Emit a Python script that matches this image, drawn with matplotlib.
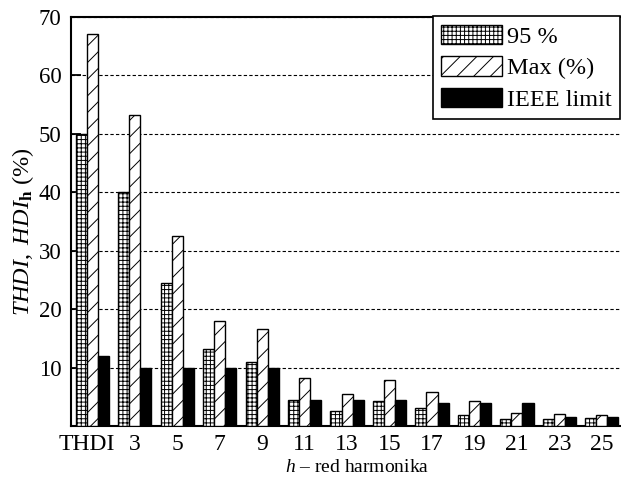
import numpy as np
import matplotlib
matplotlib.use("Agg")
import matplotlib.pyplot as plt
from matplotlib.transforms import ScaledTranslation

plt.rcParams['font.family'] = ['Liberation Serif', 'DejaVu Serif']
plt.rcParams['mathtext.fontset'] = 'custom'
plt.rcParams['mathtext.rm'] = 'Liberation Serif'
plt.rcParams['mathtext.it'] = 'Liberation Serif:italic'
plt.rcParams['mathtext.bf'] = 'Liberation Serif:bold'
plt.rcParams['hatch.linewidth'] = 0.7

# Harmonic orders and measured current distortion levels (%)
categories = ['THDI', '3', '5', '7', '9', '11', '13', '15', '17', '19', '21', '23', '25']
p95 = [50.0, 40.0, 24.4, 13.2, 10.9, 4.5, 2.5, 4.2, 3.0, 1.8, 1.2, 1.2, 1.3]
pmax = [67.1, 53.2, 32.5, 18.0, 16.6, 8.3, 5.4, 7.8, 5.9, 4.2, 2.2, 2.0, 1.8]
ieee = [12.0, 10.0, 10.0, 10.0, 10.0, 4.5, 4.5, 4.5, 4.0, 4.0, 4.0, 1.5, 1.5]

fig = plt.figure(figsize=(6.21, 4.83), dpi=100)
ax = fig.add_axes([71 / 621, 57 / 483, 550 / 621, 409 / 483])

x = np.arange(len(categories))
w = 0.2615

ax.bar(x - w, p95, w, color='white', edgecolor='black', linewidth=1.0,
       hatch='++++', label='95 %', zorder=3)
ax.bar(x, pmax, w, color='white', edgecolor='black', linewidth=1.0,
       hatch='//', label='Max (%)', zorder=3)
ax.bar(x + w, ieee, w, color='black', edgecolor='black', linewidth=1.0,
       label='IEEE limit', zorder=3)

ax.set_xlim(-0.503, 12.453)
ax.set_ylim(0, 70)
ax.set_yticks(np.arange(0, 71, 10))
ax.set_yticklabels(['', '10', '20', '30', '40', '50', '60', '70'])
ax.set_xticks(x)
ax.set_xticklabels(categories)

ax.yaxis.grid(True, linestyle=(0, (3, 2)), color='black', linewidth=0.8)
ax.set_axisbelow(True)

for side in ('left', 'bottom', 'top'):
    ax.spines[side].set_linewidth(1.5)
ax.spines['right'].set_visible(False)

ax.tick_params(axis='y', direction='in', length=7, width=1.3, labelsize=16.5, pad=7)
ax.tick_params(axis='x', length=0, labelsize=17, pad=6)

# nudge the wide "THDI" label a little to the left of its group
first = ax.get_xticklabels()[0]
first.set_transform(first.get_transform() + ScaledTranslation(-6 / 100, 0, fig.dpi_scale_trans))

ax.set_xlabel(r'$\mathit{h}$ – red harmonika', fontsize=14)
ax.xaxis.set_label_coords((357 - 71) / 550, -(467 - 426) / 409)
ax.xaxis.label.set_va('center')
ax.set_ylabel(r'$\mathit{THDI},\ \mathit{HDI}_{\mathbf{h}}$ (%)', fontsize=17.5)
ax.yaxis.set_label_coords((23 - 71) / 550, (483 - 232 - 57) / 409)
ax.yaxis.label.set_va('center')

leg = ax.legend(loc='upper right', bbox_to_anchor=(620 / 621, 1 - 16 / 483),
                bbox_transform=fig.transFigure, fontsize=17.5, frameon=True,
                fancybox=False, framealpha=1, edgecolor='black',
                handlelength=2.5, handleheight=0.85, handletextpad=0.2,
                labelspacing=0.35, borderpad=0.35, borderaxespad=0)
leg.get_frame().set_linewidth(1.2)

fig.savefig('out.png', dpi=100)
